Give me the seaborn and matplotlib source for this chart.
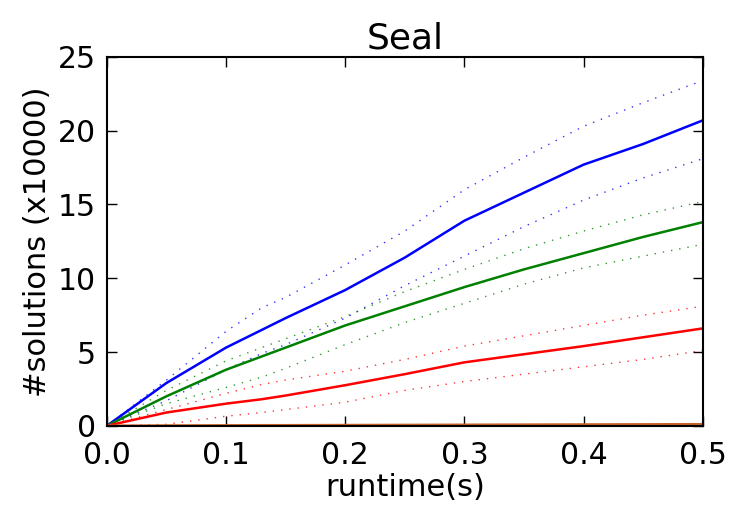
import numpy as np
import pandas as pd
import matplotlib
matplotlib.use("Agg")
import matplotlib.pyplot as plt
import seaborn as sns

runtime = [0.0, 0.05, 0.1, 0.13, 0.15, 0.2, 0.25, 0.3, 0.35, 0.4, 0.45, 0.5]

blue_mean = [0, 2.9, 5.3, 6.5, 7.3, 9.2, 11.4, 13.9, 15.8, 17.7, 19.1, 20.7]
blue_upper = [0, 3.1, 6.4, 8.0, 8.7, 10.9, 13.2, 16.0, 18.2, 20.3, 21.9, 23.4]
blue_lower = [0, 1.7, 3.8, 4.9, 5.5, 7.3, 9.5, 11.5, 13.5, 15.3, 16.8, 18.1]

green_mean = [0, 2.0, 3.8, 4.7, 5.3, 6.8, 8.1, 9.4, 10.6, 11.7, 12.8, 13.8]
green_upper = [0, 2.4, 4.4, 5.3, 5.9, 7.4, 9.1, 10.6, 12.0, 13.2, 14.3, 15.2]
green_lower = [0, 1.5, 2.6, 3.3, 3.9, 5.5, 7.0, 8.3, 9.6, 10.7, 11.5, 12.3]

red_mean = [0, 0.9, 1.5, 1.8, 2.05, 2.75, 3.5, 4.3, 4.85, 5.4, 6.0, 6.6]
red_upper = [0, 1.1, 2.2, 2.8, 3.1, 3.7, 4.5, 5.4, 6.1, 6.8, 7.5, 8.1]
red_lower = [0, 0.1, 0.65, 0.9, 1.1, 1.6, 2.4, 3.0, 3.5, 4.0, 4.5, 5.1]

orange_mean = [0, 0.02, 0.03, 0.04, 0.04, 0.05, 0.06, 0.07, 0.08, 0.09, 0.1, 0.11]

x_ticks = [0.0, 0.1, 0.2, 0.3, 0.4, 0.5]
y_ticks = [0, 5, 10, 15, 20, 25]

series = {
    ("A", "mean"): blue_mean, ("A", "upper"): blue_upper, ("A", "lower"): blue_lower,
    ("B", "mean"): green_mean, ("B", "upper"): green_upper, ("B", "lower"): green_lower,
    ("C", "mean"): red_mean, ("C", "upper"): red_upper, ("C", "lower"): red_lower,
    ("D", "mean"): orange_mean,
}
rows = []
for (alg, kind), vals in series.items():
    for xv, yv in zip(runtime, vals):
        rows.append({"runtime": xv, "solutions": yv, "alg": alg, "kind": kind})
df = pd.DataFrame(rows)

sns.set_style("white")
plt.rcParams["font.family"] = ["DejaVu Sans"]
plt.rcParams["text.color"] = "black"
plt.rcParams["axes.labelcolor"] = "black"
plt.rcParams["xtick.color"] = "black"
plt.rcParams["ytick.color"] = "black"

fig = plt.figure(figsize=(7.32, 5.13), dpi=100)
ax = fig.add_axes([0.146, 0.170, 0.814, 0.719])

palette = {"A": "#0000ff", "B": "#008000", "C": "#ff0000", "D": "#c8642a"}

bounds = df[df["kind"] != "mean"]
for (alg, kind), sub in bounds.groupby(["alg", "kind"]):
    sns.lineplot(data=sub, x="runtime", y="solutions", color=palette[alg],
                 linewidth=1.0, ax=ax, legend=False, estimator=None, sort=True,
                 linestyle=(0, (1, 5)), alpha=0.8)
means = df[df["kind"] == "mean"]
sns.lineplot(data=means, x="runtime", y="solutions", hue="alg", palette=palette,
             linewidth=1.8, ax=ax, legend=False, estimator=None, sort=True)

ax.set_xlim(0, 0.5)
ax.set_ylim(0, 25)
ax.set_xticks(x_ticks)
ax.set_xticklabels([f"{v:.1f}" for v in x_ticks])
ax.set_yticks(y_ticks)
ax.set_yticklabels([str(v) for v in y_ticks])
ax.tick_params(direction="in", length=7, width=1.0, labelsize=21.5, top=True, right=True,
               bottom=True, left=True, colors="black")
ax.tick_params(axis="x", pad=11)
ax.tick_params(axis="y", pad=8)
for s in ax.spines.values():
    s.set_visible(True)
    s.set_linewidth(1.5)
    s.set_color("black")
ax.set_xlabel("runtime(s)", fontsize=22, color="black", labelpad=2)
ax.set_ylabel("#solutions (x10000)", fontsize=22, color="black")
ax.set_title("Seal", fontsize=26, color="black")

fig.savefig("out.png", dpi=100)
